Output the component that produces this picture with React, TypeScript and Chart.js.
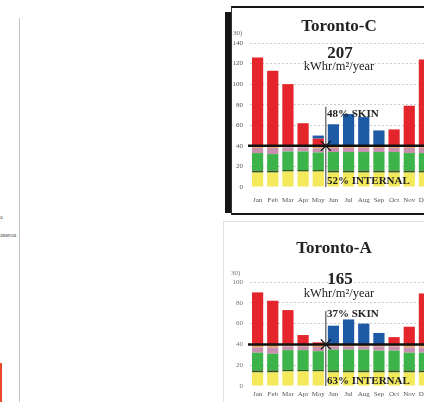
import React, { useEffect, useRef } from "react";
import { Chart, registerables } from "chart.js";

Chart.register(...registerables);

const months = ["Jan", "Feb", "Mar", "Apr", "May", "Jun", "Jul", "Aug", "Sep", "Oct", "Nov", "Dec"];

// Toronto-C (kWhr/m² per month)
const cLighting = [14, 14, 15, 15, 15, 14, 14, 14, 14, 14, 14, 14];
const cBand = [2, 2, 1.5, 1.5, 1.5, 2, 2, 2, 2, 2, 2, 2];
const cEquipment = [17, 16, 18, 18, 17, 18, 18, 18, 18, 18, 17, 17];
const cPeople = [5, 6, 4, 4, 4, 4, 4, 4, 4, 4, 5, 5];
const cFan = [2, 2, 1.5, 1.5, 2.5, 2, 2, 2, 2, 2, 2, 2];
const cHeating = [86, 73, 60, 22, 7, 0, 0, 0, 0, 16, 39, 84];
const cCooling = [0, 0, 0, 0, 3, 21, 31, 28, 15, 0, 0, 0];
const cTicksMax = 140;
const cSkinTop = 78;

// Toronto-A
const aLighting = [13, 13, 14, 14, 14, 13, 13, 13, 13, 13, 13, 13];
const aBand = [2, 2, 1.5, 1.5, 1.5, 2, 2, 2, 2, 2, 2, 2];
const aEquipment = [17, 16, 19, 19, 18, 20, 20, 20, 19, 19, 17, 17];
const aPeople = [5, 6, 3.5, 3.5, 4, 3, 3, 3, 4, 4, 5, 5];
const aFan = [3, 3, 2, 2, 2.5, 2, 2, 2, 2, 2, 3, 3];
const aHeating = [50, 42, 33, 9, 2, 0, 0, 0, 0, 7, 17, 49];
const aCooling = [0, 0, 0, 0, 0, 18, 24, 20, 11, 0, 0, 0];
const aTicksMax = 100;
const aSkinTop = 72;

const baseLine = 40;

const COLORS = {
  lighting: "#f3e95a",
  band: "#2f5a1e",
  equipment: "#3db44a",
  people: "#c98fae",
  fan: "#e9a063",
  heating: "#e4262c",
  cooling: "#1f5aa6",
};

const SERIF = "'Liberation Serif', 'DejaVu Serif', serif";

const overlayPlugin = {
  id: "overlay",
  afterDatasetsDraw(chart: any, _args: any, opts: any) {
    const { ctx, chartArea, scales } = chart;
    const x = scales.x;
    const y = scales.y;
    const yb = y.getPixelForValue(opts.base);
    const xd = (x.getPixelForValue(4) + x.getPixelForValue(5)) / 2;
    ctx.save();
    ctx.strokeStyle = "#333";
    ctx.lineWidth = 1;
    ctx.beginPath();
    ctx.moveTo(xd, y.getPixelForValue(opts.divTop));
    ctx.lineTo(xd, y.getPixelForValue(0));
    ctx.stroke();
    ctx.strokeStyle = "#111";
    ctx.lineWidth = 2.5;
    ctx.beginPath();
    ctx.moveTo(chartArea.left - 2, yb);
    ctx.lineTo(chartArea.right + 20, yb);
    ctx.stroke();
    const s = 5;
    ctx.lineWidth = 1.3;
    ctx.beginPath();
    ctx.moveTo(xd - s, yb - s);
    ctx.lineTo(xd + s, yb + s);
    ctx.moveTo(xd + s, yb - s);
    ctx.lineTo(xd - s, yb + s);
    ctx.stroke();
    ctx.restore();
  },
};

type ChartProps = {
  left: number;
  top: number;
  width: number;
  height: number;
  padTop: number;
  xAxisHeight: number;
  xPad: number;
  yMax: number;
  divTop: number;
  series: number[][];
  tickColor: string;
};

function StackChart(p: ChartProps) {
  const ref = useRef<HTMLCanvasElement | null>(null);
  useEffect(() => {
    if (!ref.current) return;
    const names = ["lighting", "band", "equipment", "people", "fan", "heating", "cooling"] as const;
    const chart = new Chart(ref.current, {
      type: "bar",
      data: {
        labels: months,
        datasets: names.map((n, i) => ({
          label: n,
          data: p.series[i],
          backgroundColor: (COLORS as any)[n],
          borderWidth: 0,
          categoryPercentage: 1,
          barPercentage: 0.74,
        })),
      },
      options: {
        responsive: false,
        animation: false,
        devicePixelRatio: 1,
        layout: { padding: { top: p.padTop, right: 10, left: 0, bottom: 0 } },
        plugins: {
          legend: { display: false },
          tooltip: { enabled: false },
          overlay: { base: baseLine, divTop: p.divTop },
        } as any,
        scales: {
          x: {
            stacked: true,
            grid: { display: false, drawTicks: false },
            border: { display: false },
            ticks: {
              autoSkip: false,
              maxRotation: 0,
              padding: p.xPad,
              color: "#555",
              font: { family: SERIF, size: 7 },
            },
            afterFit: (s: any) => {
              s.height = p.xAxisHeight;
            },
          },
          y: {
            stacked: true,
            min: 0,
            max: p.yMax,
            ticks: {
              stepSize: 20,
              padding: 7,
              color: p.tickColor,
              font: { family: SERIF, size: 7 },
            },
            grid: {
              drawTicks: false,
              color: (c: any) => (c.tick && c.tick.value === 0 ? "rgba(0,0,0,0)" : "#cfcfcf"),
            },
            border: { display: false, dash: [2, 2] },
            afterFit: (s: any) => {
              s.width = 18;
            },
          },
        },
      } as any,
      plugins: [overlayPlugin],
    });
    return () => chart.destroy();
  }, []);
  return (
    <canvas
      ref={ref}
      width={p.width}
      height={p.height}
      style={{ position: "absolute", left: p.left, top: p.top, width: p.width, height: p.height }}
    />
  );
}

const abs = (x: number, y: number, extra: React.CSSProperties = {}): React.CSSProperties => ({
  position: "absolute",
  left: x,
  top: y,
  whiteSpace: "nowrap",
  fontFamily: SERIF,
  color: "#222",
  lineHeight: 1,
  ...extra,
});

const center = { transform: "translate(-50%, -50%)" };
const midY = { transform: "translateY(-50%)" };

export default function App() {
  return (
    <div
      style={{
        position: "fixed",
        left: 0,
        top: 0,
        width: 424,
        height: 402,
        overflow: "hidden",
        background: "#fff",
      }}
    >
      <div style={{ position: "absolute", left: 19, top: 18, width: 1, height: 390, background: "#c4c4c4" }} />
      <div style={abs(0, 214, { fontSize: 6, color: "#444" })}>a</div>
      <div style={abs(0, 232, { fontSize: 6, color: "#444" })}>anerou</div>
      <div
        style={{
          position: "absolute",
          left: -12,
          top: 363,
          width: 14,
          height: 60,
          border: "2px solid #ea4a2a",
          boxSizing: "border-box",
        }}
      />

      <div style={{ position: "absolute", left: 225, top: 12, width: 6, height: 201, background: "#151515" }} />
      <div
        style={{
          position: "absolute",
          left: 231,
          top: 6,
          width: 300,
          height: 205,
          borderTop: "2px solid #151515",
          borderLeft: "1.5px solid #333",
          borderBottom: "2px solid #151515",
        }}
      />

      <StackChart
        left={232}
        top={30}
        width={210}
        height={180}
        padTop={13}
        xAxisHeight={23}
        xPad={9}
        yMax={cTicksMax}
        divTop={cSkinTop}
        series={[cLighting, cBand, cEquipment, cPeople, cFan, cHeating, cCooling]}
        tickColor="#555"
      />
      <div style={abs(233, 30, { fontSize: 7, color: "#666" })}>30)</div>
      <div style={abs(339, 25, { fontSize: 17, fontWeight: "bold", ...center })}>Toronto-C</div>
      <div style={abs(340, 52, { fontSize: 17, fontWeight: "bold", ...center })}>207</div>
      <div style={abs(339, 66, { fontSize: 12.5, ...center })}>kWhr/m²/year</div>
      <div style={abs(327, 113, { fontSize: 11, fontWeight: "bold", ...midY })}>48% SKIN</div>
      <div style={abs(327, 180, { fontSize: 11, fontWeight: "bold", ...midY })}>52% INTERNAL</div>

      <div style={{ position: "absolute", left: 223, top: 221, width: 1, height: 190, background: "#e2e2e2" }} />
      <div style={{ position: "absolute", left: 223, top: 221, width: 210, height: 1, background: "#e2e2e2" }} />

      <StackChart
        left={232}
        top={265}
        width={210}
        height={145}
        padTop={17}
        xAxisHeight={24}
        xPad={4}
        yMax={aTicksMax}
        divTop={aSkinTop}
        series={[aLighting, aBand, aEquipment, aPeople, aFan, aHeating, aCooling]}
        tickColor="#777"
      />
      <div style={abs(231, 270, { fontSize: 7, color: "#777" })}>30)</div>
      <div style={abs(334, 247, { fontSize: 17, fontWeight: "bold", ...center })}>Toronto-A</div>
      <div style={abs(340, 278, { fontSize: 17, fontWeight: "bold", ...center })}>165</div>
      <div style={abs(339, 293, { fontSize: 12.5, ...center })}>kWhr/m²/year</div>
      <div style={abs(327, 313, { fontSize: 11, fontWeight: "bold", ...midY })}>37% SKIN</div>
      <div style={abs(327, 380, { fontSize: 11, fontWeight: "bold", ...midY })}>63% INTERNAL</div>
    </div>
  );
}
